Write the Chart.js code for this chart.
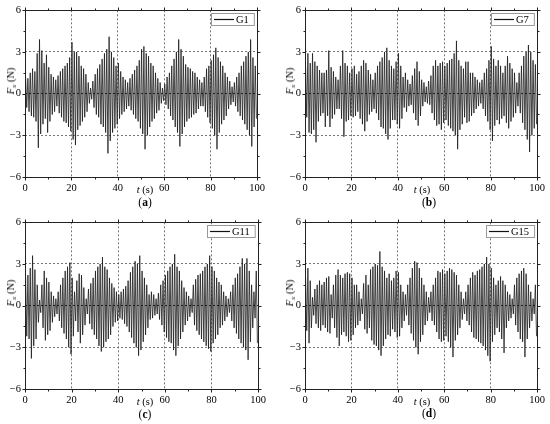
<!DOCTYPE html>
<html><head><meta charset="utf-8">
<script src="https://cdn.jsdelivr.net/npm/chart.js@4/dist/chart.umd.min.js"></script>
<style>
html,body{margin:0;padding:0;background:#fff}
body{width:550px;height:424px;overflow:hidden;position:relative;font-family:"Liberation Serif","Times New Roman",serif;color:#000}
.panel{position:absolute;width:275px;height:212px}
.panel canvas{position:absolute;left:0;top:0}
.lab{position:absolute;font-size:10.5px;white-space:nowrap;transform:translate(-50%,-50%);line-height:1}
.ylab{position:absolute;font-size:10.5px;white-space:nowrap;transform:translate(-50%,-50%) rotate(-90deg);line-height:1}
.ylab sub{font-size:7px;vertical-align:-2px}
</style>
</head><body>
<script>
// ---- axis ticks ----
const xTicks = [0, 20, 40, 60, 80, 100];
const yTicks = [-6, -3, 0, 3, 6];
const seriesNames = ["G1", "G7", "G11", "G15"];
const panelLabels = ["a", "b", "c", "d"];

// ---- peak values (one positive and one negative peak per second) ----
const g1Pos = [1.2,1.1,1.5,1.8,1.6,2.9,3.9,3.1,2.2,2.8, 1.9,1.4,1.2,1.0,1.3,1.6,1.8,2.0,2.2,2.6,
  3.7,3.0,3.0,2.7,2.0,1.8,1.4,0.8,0.4,0.9, 1.4,1.8,2.1,2.5,2.9,3.2,4.1,3.0,2.6,2.0,
  2.2,1.6,1.2,1.0,0.8,1.1,1.4,1.7,2.0,2.4, 3.2,3.4,2.9,2.7,2.2,2.0,1.5,1.1,0.8,0.4,
  0.7,1.2,1.5,2.0,2.5,3.0,3.9,3.2,2.7,2.1, 1.9,1.8,1.6,1.5,1.2,1.0,0.8,1.2,1.8,2.0,
  2.4,2.8,3.3,2.6,2.3,2.0,1.5,1.2,0.9,0.5, 0.8,1.2,1.5,2.0,2.3,2.7,3.0,3.9,2.6,2.0];
const g1Neg = [-1.0,-1.3,-1.6,-1.7,-2.0,-3.9,-2.9,-2.2,-1.8,-2.8, -2.0,-1.5,-1.3,-0.9,-1.4,-1.7,-2.0,-2.1,-2.4,-2.7,
  -3.3,-3.7,-2.6,-2.3,-2.0,-1.7,-1.3,-0.7,-0.4,-1.0, -1.5,-1.7,-2.2,-2.4,-2.8,-4.3,-3.4,-2.8,-2.5,-2.2,
  -1.8,-1.5,-1.3,-1.1,-0.9,-1.2,-1.5,-1.8,-2.0,-2.5, -2.9,-4.0,-3.0,-2.4,-2.0,-1.8,-1.4,-1.2,-0.7,-0.5,
  -0.8,-1.1,-1.6,-1.9,-2.4,-2.8,-3.8,-2.9,-2.4,-2.0, -1.8,-1.7,-1.5,-1.4,-1.1,-0.9,-0.9,-1.3,-1.7,-2.1,
  -2.5,-3.0,-4.0,-2.8,-2.2,-1.9,-1.6,-1.1,-0.8,-0.6, -0.9,-1.3,-1.6,-1.9,-2.2,-2.6,-3.0,-3.8,-2.4,-1.8];

const g7Pos = [2.0,2.9,2.2,2.9,2.3,2.0,1.7,1.5,1.5,1.7, 3.1,1.9,1.6,1.2,1.0,2.0,3.1,2.2,2.0,1.5,
  1.8,2.0,1.4,1.6,2.0,2.4,2.2,1.7,1.4,1.0, 1.5,2.0,2.3,2.6,3.0,3.3,2.4,2.0,1.8,2.3,
  2.9,2.0,1.2,1.5,1.0,0.7,1.3,1.8,2.3,1.6, 1.0,0.8,0.5,0.9,1.3,2.0,2.4,2.0,2.2,2.3,
  2.0,2.2,2.4,2.5,2.9,3.8,2.4,2.0,1.8,2.3, 2.3,1.5,1.5,1.2,1.0,0.8,1.0,1.5,1.8,2.4,
  3.4,2.5,2.0,2.4,2.0,1.5,2.0,2.7,2.2,1.8, 1.5,0.8,1.5,2.0,2.7,3.0,3.5,3.0,2.4,2.1];
const g7Neg = [-1.7,-2.8,-2.9,-2.6,-3.5,-2.0,-1.6,-1.4,-2.4,-1.6, -2.4,-1.8,-1.5,-1.1,-1.1,-1.8,-3.1,-2.0,-1.9,-1.6,
  -1.7,-1.6,-1.3,-1.8,-2.2,-2.7,-2.0,-1.5,-1.3,-1.1, -1.4,-1.9,-2.4,-2.5,-2.9,-3.3,-2.5,-1.9,-1.9,-2.2,
  -2.5,-1.8,-1.0,-1.3,-0.9,-0.8,-1.4,-1.9,-2.3,-1.6, -0.9,-0.6,-0.7,-0.8,-1.4,-1.9,-2.3,-2.2,-2.6,-2.1,
  -1.9,-2.3,-2.5,-2.7,-3.0,-4.0,-2.6,-2.2,-1.7,-2.1, -2.0,-1.6,-1.4,-1.1,-0.9,-0.7,-1.1,-1.6,-2.0,-2.6,
  -3.4,-2.3,-1.9,-2.2,-1.8,-1.6,-2.1,-2.5,-2.0,-1.7, -1.4,-0.9,-1.4,-2.1,-2.6,-3.3,-4.2,-3.0,-2.5,-2.2];

const g11Pos = [2.1,2.2,2.7,3.6,2.6,1.5,0.4,1.5,2.5,2.0, 1.7,1.0,0.7,0.5,1.0,1.5,2.0,2.5,2.8,3.1,
  2.0,1.0,1.8,2.3,2.2,1.3,0.5,1.2,1.6,2.0, 2.5,2.8,3.0,3.5,2.8,2.6,2.0,1.6,1.3,1.0,
  0.8,1.0,1.2,1.4,1.8,2.4,2.8,3.2,3.0,3.6, 2.5,2.0,1.5,0.8,1.0,0.8,0.5,0.9,1.5,1.8,
  2.2,2.5,2.8,3.0,3.7,2.8,2.5,1.8,1.3,1.0, 0.7,0.5,1.5,1.9,2.2,2.3,2.5,2.8,3.0,3.6,
  2.8,2.5,2.0,1.7,1.5,1.0,0.7,0.5,1.0,1.5, 2.0,2.3,2.8,3.4,3.0,3.4,2.5,1.5,1.0,2.5];
const g11Neg = [-2.2,-2.4,-3.8,-2.9,-2.4,-1.2,-0.5,-1.6,-2.5,-2.1, -1.8,-1.2,-0.8,-0.6,-1.1,-1.6,-2.0,-2.4,-3.0,-3.5,
  -2.2,-1.1,-1.9,-2.7,-2.1,-1.4,-0.6,-1.3,-1.7,-2.1, -2.4,-2.9,-3.3,-3.0,-2.6,-2.4,-2.1,-1.5,-1.2,-1.1,
  -0.9,-1.0,-1.3,-1.5,-1.9,-2.3,-2.7,-3.0,-3.6,-3.2, -2.6,-2.1,-1.6,-1.0,-0.9,-0.7,-0.6,-1.0,-1.4,-1.9,
  -2.3,-2.6,-2.7,-3.2,-3.6,-2.9,-2.4,-1.9,-1.4,-1.1, -0.8,-0.5,-1.4,-1.8,-2.1,-2.4,-2.6,-2.9,-3.1,-3.3,
  -2.7,-2.4,-2.1,-1.6,-1.4,-1.1,-0.8,-0.5,-1.1,-1.6, -2.0,-2.4,-2.7,-3.0,-3.2,-3.9,-2.6,-1.6,-0.9,-2.7];

const g15Pos = [2.0,2.7,1.8,0.6,1.2,1.5,1.8,1.5,1.7,2.0, 2.1,0.8,1.5,2.2,2.6,2.2,2.0,2.3,2.4,2.3,
  2.0,1.5,1.5,1.0,0.5,1.6,2.2,1.5,2.6,2.8, 3.0,2.9,3.9,2.8,2.5,2.0,2.3,1.8,2.0,2.5,
  2.4,1.5,1.0,0.8,1.5,2.0,2.7,3.2,3.1,2.7, 2.0,1.5,1.0,0.6,1.0,1.5,2.0,2.5,2.4,2.6,
  2.3,2.5,2.7,2.6,2.4,2.2,1.5,1.0,0.5,1.0, 1.5,2.0,2.4,2.2,2.5,2.6,2.8,3.0,3.5,3.0,
  2.7,2.0,1.5,1.8,2.1,1.8,1.5,1.0,0.8,0.5, 1.5,2.0,2.3,2.5,2.7,2.3,1.5,1.0,0.5,1.5];
const g15Neg = [-1.8,-2.7,-1.6,-0.7,-1.3,-1.6,-1.8,-1.4,-1.6,-1.9, -2.0,-0.9,-1.6,-2.3,-2.9,-2.1,-1.9,-2.2,-2.6,-2.5,
  -2.1,-1.6,-1.4,-1.1,-0.6,-1.7,-2.0,-1.6,-2.5,-2.8, -2.9,-3.2,-3.6,-2.9,-2.4,-2.1,-2.2,-1.7,-1.9,-2.3,
  -2.2,-1.6,-1.1,-0.7,-1.4,-2.0,-2.5,-3.0,-3.5,-2.6, -2.1,-1.4,-1.1,-0.5,-1.1,-1.4,-1.9,-2.4,-2.6,-2.5,
  -2.2,-2.6,-3.0,-3.7,-2.5,-2.1,-1.6,-1.0,-0.6,-1.1, -1.4,-1.9,-2.3,-2.4,-2.6,-2.7,-2.9,-3.2,-3.6,-4.0,
  -2.6,-2.1,-1.6,-1.9,-2.4,-3.4,-1.6,-1.1,-0.9,-0.6, -1.4,-1.9,-2.4,-2.6,-3.7,-2.4,-1.6,-1.1,-0.6,-2.2];

const panels = [
  {pos:g1Pos,  neg:g1Neg,  left:0,   top:0,   yw:25, pr:18, ylx:12, tx:145, px:145, py:203},
  {pos:g7Pos,  neg:g7Neg,  left:275, top:0,   yw:30, pr:12, ylx:16, tx:147, px:154, py:203},
  {pos:g11Pos, neg:g11Neg, left:0,   top:212, yw:25, pr:17, ylx:12, tx:145, px:145, py:203},
  {pos:g15Pos, neg:g15Neg, left:275, top:212, yw:30, pr:12, ylx:16, tx:147, px:154, py:202}
];

const framePlugin = {
  id: 'frame',
  afterDatasetsDraw(chart, args, opts) {
    const {ctx, chartArea: a, scales: {x, y}} = chart;
    ctx.save();
    ctx.strokeStyle = '#222';
    ctx.lineWidth = 1;
    const L0 = Math.round(a.left) + 0.5, R0 = Math.round(a.right) + 0.5;
    const T0 = Math.round(a.top) + 0.5, B0 = Math.round(a.bottom) + 0.5;
    ctx.strokeRect(L0, T0, R0 - L0, B0 - T0);
    ctx.beginPath();
    for (let v = 0; v <= 100; v += 10) {
      const px = Math.round(x.getPixelForValue(v)) + 0.5;
      const L = v % 20 === 0 ? 3 : 2;
      ctx.moveTo(px, B0); ctx.lineTo(px, B0 + L);
      ctx.moveTo(px, T0); ctx.lineTo(px, T0 - L);
    }
    for (let v = -6; v <= 6; v += 1.5) {
      const py = Math.round(y.getPixelForValue(v)) + 0.5;
      const L = v % 3 === 0 ? 3 : 2;
      ctx.moveTo(L0, py); ctx.lineTo(L0 - L, py);
      ctx.moveTo(R0, py); ctx.lineTo(R0 + L, py);
    }
    ctx.stroke();
    // legend
    const name = opts.name;
    ctx.font = '10.5px "Liberation Serif", serif';
    const tw = ctx.measureText(name).width;
    const w = 26 + tw + 4, h = 12;
    const bx = Math.round(a.right - 3 - w), by = Math.round(a.top + 3);
    ctx.fillStyle = '#fff';
    ctx.fillRect(bx, by, w, h);
    ctx.strokeStyle = '#999';
    ctx.lineWidth = 1;
    ctx.strokeRect(bx + 0.5, by + 0.5, w, h);
    ctx.strokeStyle = '#111';
    ctx.lineWidth = 1.2;
    ctx.beginPath();
    ctx.moveTo(bx + 3, by + 6.5); ctx.lineTo(bx + 23, by + 6.5);
    ctx.stroke();
    ctx.fillStyle = '#000';
    ctx.textBaseline = 'middle';
    ctx.fillText(name, bx + 25, by + 7);
    ctx.restore();
  }
};

const fmt = v => v < 0 ? '\u2212' + Math.abs(v) : String(v);

panels.forEach((p, k) => {
  const div = document.createElement('div');
  div.className = 'panel';
  div.style.left = p.left + 'px';
  div.style.top = p.top + 'px';
  div.innerHTML = '<canvas width="275" height="212"></canvas>' +
    '<div class="ylab" style="left:' + p.ylx + 'px;top:81px"><i>F</i><sub><i>x</i></sub> (N)</div>' +
    '<div class="lab" style="left:' + p.tx + 'px;top:190px"><i>t</i> (s)</div>' +
    '<div class="lab" style="left:' + p.px + 'px;top:' + p.py + 'px;font-size:11.5px">(<b>' + panelLabels[k] + '</b>)</div>';
  document.body.appendChild(div);
  const data = [];
  for (let i = 0; i < p.pos.length; i++) {
    data.push({x: i + 0.25, y: p.pos[i]});
    data.push({x: i + 0.75, y: p.neg[i]});
  }
  new Chart(div.querySelector('canvas'), {
    type: 'line',
    data: {datasets: [{label: seriesNames[k], data, borderColor: '#1c1c1c', borderWidth: 0.8,
      pointRadius: 0, tension: 0, fill: false}]},
    options: {
      responsive: false, animation: false, devicePixelRatio: 1,
      layout: {padding: {left: 0, right: p.pr, top: 7, bottom: 0}},
      plugins: {legend: {display: false}, tooltip: {enabled: false}, frame: {name: seriesNames[k]}},
      scales: {
        x: {type: 'linear', min: 0, max: 100,
          afterBuildTicks: s => { s.ticks = xTicks.map(v => ({value: v})); },
          afterFit: s => { s.height = 35; },
          border: {display: false, dash: [2, 2]},
          grid: {drawTicks: false, lineWidth: 0.8,
            color: c => (c.tick && (c.tick.value === 0 || c.tick.value === 100)) ? 'rgba(0,0,0,0)' : '#555'},
          ticks: {padding: 5, color: '#000', maxRotation: 0, font: {family: '"Liberation Serif", serif', size: 10.5}, callback: fmt}
        },
        y: {type: 'linear', min: -6, max: 6,
          afterBuildTicks: s => { s.ticks = yTicks.map(v => ({value: v})); },
          afterFit: s => { s.width = p.yw; },
          border: {display: false, dash: [2, 2]},
          grid: {drawTicks: false, lineWidth: c => (c.tick && c.tick.value === 0) ? 1 : 0.8,
            color: c => (c.tick && Math.abs(c.tick.value) === 6) ? 'rgba(0,0,0,0)' : (c.tick && c.tick.value === 0 ? '#222' : '#555')},
          ticks: {padding: 4, color: '#000', font: {family: '"Liberation Serif", serif', size: 10.5}, callback: fmt}
        }
      }
    },
    plugins: [framePlugin]
  });
});
</script>
</body></html>
